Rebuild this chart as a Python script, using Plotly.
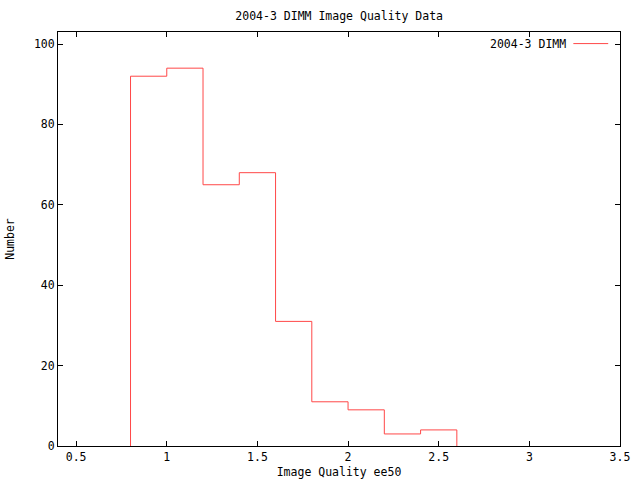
import plotly.graph_objects as go

series_name = "2004-3 DIMM"
bin_edges = [0.8, 1.0, 1.2, 1.4, 1.6, 1.8, 2.0, 2.2, 2.4, 2.6]
counts = [92, 94, 65, 68, 31, 11, 9, 3, 4]
x_ticks = [0.5, 1, 1.5, 2, 2.5, 3, 3.5]
x_tick_labels = ["0.5", "1", "1.5", "2", "2.5", "3", "3.5"]
y_ticks = [0, 20, 40, 60, 80, 100]

FONT = dict(family="DejaVu Sans Mono, Liberation Mono, monospace", size=11.5, color="black")
RED = "#ff4848"

xs = [bin_edges[0]] + bin_edges
ys = [0] + counts + [0]

fig = go.Figure()
fig.add_trace(go.Scatter(
    x=xs, y=ys, mode="lines", line=dict(color=RED, width=1, shape="hv"),
    name=series_name, showlegend=False, hoverinfo="skip"
))

axis_common = dict(
    showline=True, linecolor="black", linewidth=1, mirror="ticks",
    ticks="inside", ticklen=5, tickcolor="black", tickwidth=1,
    showgrid=False, zeroline=False, tickfont=FONT, automargin=False,
)

fig.update_layout(
    width=640, height=480,
    margin=dict(l=58, r=20, t=32, b=34),
    paper_bgcolor="white", plot_bgcolor="white",
    font=FONT,
    title=dict(text="2004-3 DIMM Image Quality Data", x=0.53, xanchor="center",
               y=1 - 16 / 480, yanchor="middle", font=FONT),
    xaxis=dict(range=[0.4, 3.5], tickvals=x_ticks, ticktext=x_tick_labels,
               title=dict(text="Image Quality ee50", font=FONT, standoff=5), **axis_common),
    yaxis=dict(range=[0, 103], tickvals=y_ticks,
               title=dict(text="Number", font=FONT, standoff=16), **axis_common),
    annotations=[dict(text=series_name, xref="paper", yref="paper", x=0.907, y=0.972,
                      xanchor="right", yanchor="middle", showarrow=False, font=FONT)],
    shapes=[dict(type="line", xref="paper", yref="paper", x0=0.917, x1=0.979,
                 y0=0.972, y1=0.972, line=dict(color=RED, width=1))],
)

fig.write_html("out.html", config={"displayModeBar": False},
               post_script="document.body.style.margin='0';")
